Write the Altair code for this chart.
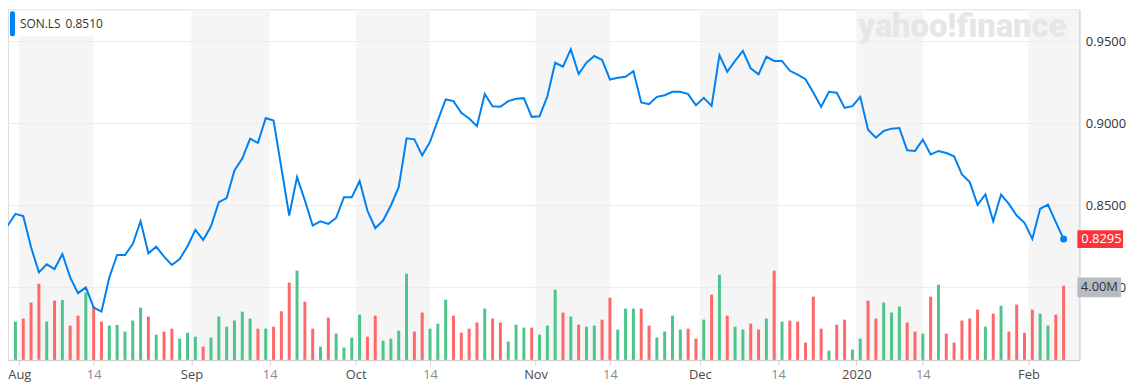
import json
import altair as alt
import pandas as pd

# ---------------- data ----------------
ticker = ["SON.LS"]
legend_value = ["0.8510"]
watermark = ["yahoo!finance"]

# trading-day index (-1 is the partially visible lead-in point)
idx = list(range(-1, 135))
price = [
    0.8376,
    0.8449, 0.8435, 0.8245, 0.8092, 0.8141, 0.8112, 0.8204, 0.8061, 0.7965, 0.8000,
    0.7878, 0.7853, 0.8061, 0.8198, 0.8198, 0.8265, 0.8404, 0.8208, 0.8249, 0.8188,
    0.8137, 0.8173, 0.8251, 0.8351, 0.8290, 0.8373, 0.8520, 0.8545, 0.8714, 0.8786,
    0.8908, 0.8882, 0.9034, 0.9018, 0.8729, 0.8439, 0.8673, 0.8531, 0.8378, 0.8404,
    0.8388, 0.8424, 0.8551, 0.8551, 0.8649, 0.8469, 0.8361, 0.8408, 0.8500, 0.8612,
    0.8910, 0.8904, 0.8806, 0.8888, 0.9020, 0.9147, 0.9137, 0.9065, 0.9031, 0.8984,
    0.9180, 0.9106, 0.9102, 0.9137, 0.9151, 0.9155, 0.9041, 0.9045, 0.9165, 0.9371,
    0.9347, 0.9453, 0.9302, 0.9371, 0.9412, 0.9388, 0.9269, 0.9280, 0.9286, 0.9320,
    0.9129, 0.9118, 0.9163, 0.9173, 0.9194, 0.9194, 0.9180, 0.9112, 0.9157, 0.9108,
    0.9418, 0.9316, 0.9382, 0.9443, 0.9337, 0.9300, 0.9408, 0.9382, 0.9382, 0.9322,
    0.9298, 0.9271, 0.9190, 0.9102, 0.9194, 0.9188, 0.9096, 0.9106, 0.9163, 0.8963,
    0.8914, 0.8955, 0.8969, 0.8973, 0.8837, 0.8833, 0.8902, 0.8812, 0.8833, 0.8820,
    0.8800, 0.8690, 0.8643, 0.8504, 0.8567, 0.8404, 0.8567, 0.8510, 0.8439, 0.8394,
    0.8296, 0.8480, 0.8506, 0.8398, 0.8295,
]

vol_idx = list(range(0, 135))
volume_m = [
    2.11, 2.28, 3.16, 4.20, 2.11, 3.27, 3.30, 1.89, 2.44, 3.71,
    2.94, 2.11, 1.89, 1.93, 1.56, 2.17, 2.88, 2.39, 1.39, 1.56,
    1.72, 1.17, 1.50, 1.28, 0.73, 1.23, 2.39, 1.83, 2.17, 2.66,
    2.28, 1.72, 1.72, 1.83, 2.68, 4.26, 4.92, 3.21, 1.72, 0.73,
    2.33, 1.45, 0.68, 1.23, 2.50, 1.28, 2.44, 1.06, 1.17, 1.61,
    4.75, 1.56, 2.61, 1.72, 2.00, 3.32, 2.44, 1.50, 1.72, 2.06,
    2.83, 2.28, 2.06, 1.01, 1.94, 1.78, 1.78, 1.39, 1.89, 3.87,
    2.61, 2.39, 1.94, 1.83, 1.89, 2.22, 3.43, 1.67, 2.83, 2.83,
    2.83, 1.89, 1.23, 1.56, 2.44, 1.67, 1.72, 1.17, 2.22, 3.60,
    4.70, 2.44, 1.83, 1.67, 2.00, 1.67, 2.28, 4.92, 2.11, 2.17,
    2.11, 0.95, 3.49, 1.72, 0.51, 1.94, 2.22, 0.57, 1.17, 3.27,
    2.28, 3.16, 2.61, 2.94, 2.06, 1.56, 1.45, 3.49, 4.15, 1.45,
    0.95, 2.17, 2.28, 2.77, 1.83, 2.55, 2.99, 1.56, 3.05, 1.50,
    2.77, 2.55, 1.89, 2.50, 4.09,
]
direction = list(
    "grrrgrgrrg" "rrgggggrgr" "rgggrggggg" "grgrrrgrrg" "rggggrrggg"
    "grrgggrrrr" "grrgggrggg" "rgrggrrggg" "rrggggrrgr" "grggrrgrgr"
    "rrrrgrrggr" "rgggrrgrgr" "rrrrgrgrrr" "rggrr"
)

tick_pos = [0.5, 10, 22.5, 32.5, 43.5, 53, 66.5, 76, 87.5, 97.5, 107.5, 116, 129.5]
tick_lab = ["Aug", "14", "Sep", "14", "Oct", "14", "Nov", "14", "Dec", "14", "2020", "14", "Feb"]
band_start = [0.5, 22.5, 43.5, 66.5, 87.5, 107.5, 129.5]
band_end = [10, 32.5, 53, 76, 97.5, 116, 136]
price_grid = [0.80, 0.85, 0.90, 0.95]
vol_label = [4.0e6]

# ---------------- layout / style ----------------
W, H = 1079, 353
XDOM = [-0.315, 135.38]
PDOM = [0.7558, 0.9697]
VDOM = [0, 19.34e6]
BLUE = "#0081f2"
GREEN = "#4cc48a"
RED = "#ff6868"
FONT = "Open Sans"

df_price = pd.DataFrame({"i": idx, "price": price})
df_last = df_price.tail(1)
df_vol = pd.DataFrame({"i": vol_idx, "vol": [v * 1e6 for v in volume_m], "dir": direction})
df_band = pd.DataFrame({"start": band_start, "end": band_end})
df_grid = pd.DataFrame({"p": price_grid})
df_vlab = pd.DataFrame({"v": vol_label})
df_leg = pd.DataFrame({"t": ticker, "val": legend_value})
df_wm = pd.DataFrame({"w": watermark})

lab_expr = "%s[indexof(%s, datum.value)]" % (json.dumps(tick_lab), json.dumps(tick_pos))
day_pos = [p for p, l in zip(tick_pos, tick_lab) if l == "14"]

xaxis = alt.Axis(
    values=tick_pos, labelExpr=lab_expr, title=None, grid=False,
    domainColor="#cccccc", tickColor="#cccccc", tickSize=5,
    labelFontSize=13, labelFont=FONT, labelPadding=4, labelFlush=False,
    labelOverlap=False,
    labelColor={"condition": {"test": "indexof(%s, datum.value) >= 0" % json.dumps(day_pos),
                              "value": "#8a8a8a"}, "value": "#4a4a4a"},
)
xscale = alt.Scale(domain=XDOM, nice=False, zero=False)
pscale = alt.Scale(domain=PDOM, nice=False, zero=False)
vscale = alt.Scale(domain=VDOM, nice=False)


def X(field):
    return alt.X(field, scale=xscale, axis=xaxis, title=None)


bands = alt.Chart(df_band).mark_rect(color="#f5f5f5", clip=True).encode(
    x=X("start:Q"), x2="end:Q", y=alt.value(0), y2=alt.value(H)
)

wm = alt.Chart(df_wm).mark_text(
    font="Roboto", fontWeight=900, fontSize=33, color="#e6e6e6",
    align="right", baseline="alphabetic"
).encode(x=alt.value(1066), y=alt.value(28), text="w:N")

grid = alt.Chart(df_grid).mark_rule(color="#ebebeb", strokeWidth=1).encode(
    y=alt.Y("p:Q", scale=pscale, axis=None)
)

bars = alt.Chart(df_vol).mark_bar(size=3).encode(
    x=X("i:Q"),
    y=alt.Y("vol:Q", scale=vscale, axis=None),
    color=alt.Color("dir:N", scale=alt.Scale(domain=["g", "r"], range=[GREEN, RED]), legend=None),
)

line = alt.Chart(df_price).mark_line(color=BLUE, strokeWidth=2, clip=True).encode(
    x=X("i:Q"),
    y=alt.Y("price:Q", scale=pscale, title=None,
            axis=alt.Axis(orient="right", values=price_grid, format=".4f", grid=False,
                          ticks=False, domainColor="#cccccc", labelFontSize=13,
                          labelFont=FONT, labelColor="#333333", labelPadding=6)),
)

dot = alt.Chart(df_last).mark_circle(size=50, color=BLUE, opacity=1).encode(
    x=X("i:Q"), y=alt.Y("price:Q", scale=pscale, axis=None)
)

red_box = alt.Chart(df_last).mark_point(
    shape="M-1,-0.39H1V0.39H-1Z", filled=True, color="#ff333a", opacity=1, size=2116, strokeWidth=0
).encode(x=alt.value(W + 21), y=alt.Y("price:Q", scale=pscale, axis=None))

red_txt = alt.Chart(df_last).mark_text(
    align="left", baseline="middle", color="white", fontSize=13, font=FONT
).encode(x=alt.value(W + 2), y=alt.Y("price:Q", scale=pscale, axis=None),
         text=alt.Text("price:Q", format=".4f"))

vol_box = alt.Chart(df_vlab).mark_point(
    shape="M-1,-0.455H1V0.455H-1Z", filled=True, color="#b8bbc2", opacity=1, size=1936, strokeWidth=0
).encode(x=alt.value(W + 20), y=alt.Y("v:Q", scale=vscale, axis=None))

vol_txt = alt.Chart(df_vlab).mark_text(
    align="left", baseline="middle", color="#333333", fontSize=13, font=FONT
).encode(x=alt.value(W + 1.5), y=alt.Y("v:Q", scale=vscale, axis=None),
         text=alt.Text("v:Q", format=".3s"))

leg_bg = alt.Chart(df_leg).mark_rect(color="white").encode(
    x=alt.value(2), x2=alt.value(98), y=alt.value(2), y2=alt.value(27)
)
leg_bar = alt.Chart(df_leg).mark_rect(color=BLUE, cornerRadius=2).encode(
    x=alt.value(2), x2=alt.value(7), y=alt.value(2), y2=alt.value(27)
)
leg_t = alt.Chart(df_leg).mark_text(
    align="left", baseline="middle", color="#333333", fontSize=12, font=FONT
).encode(x=alt.value(12), y=alt.value(15), text="t:N")
leg_v = alt.Chart(df_leg).mark_text(
    align="left", baseline="middle", color="#333333", fontSize=12, font=FONT
).encode(x=alt.value(58), y=alt.value(15), text="val:N")

chart = alt.layer(
    bands, wm, grid, leg_bg, leg_bar, leg_t, leg_v, bars, line, dot,
    red_box, red_txt, vol_box, vol_txt
).resolve_scale(y="independent").properties(
    width=W, height=H,
    autosize=alt.AutoSizeParams(type="none"),
    padding={"left": 0, "top": 0, "right": 54, "bottom": 30},
).configure_view(strokeWidth=0).configure(background="white")

chart.save("out.html", embed_options={"renderer": "svg", "actions": False})
